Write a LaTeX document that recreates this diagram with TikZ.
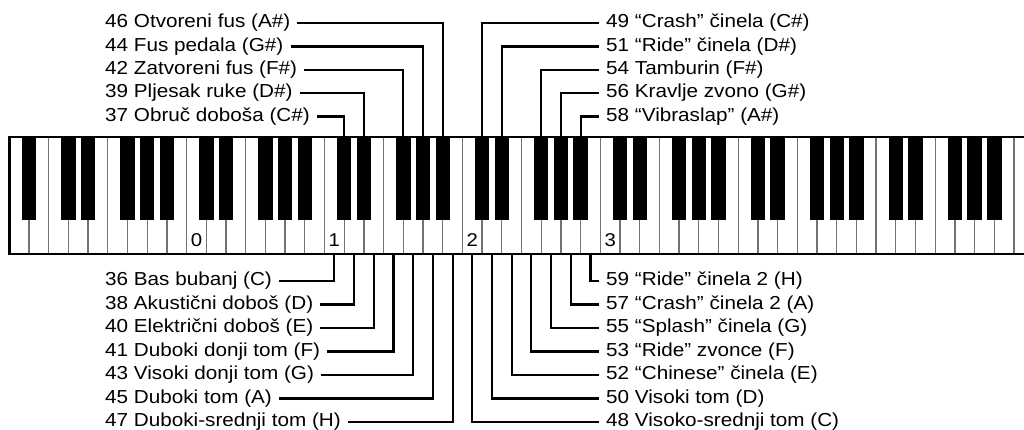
\documentclass[tikz,border=0pt]{standalone}
\usepackage{fontspec}
\setsansfont{Liberation Sans}[FakeStretch=1.1]
\def\kx{9.3}
\def\kw{19.7}

\begin{document}
\begin{tikzpicture}[
  x=1pt,y=-1pt,font=\sffamily,
  lbl/.style={font=\sffamily\fontsize{18.8}{22}\selectfont, anchor=west, inner xsep=7pt, inner ysep=1pt},
  oct/.style={font=\sffamily\fontsize{18.5}{20}\selectfont, inner sep=0pt},
  lead/.style={line width=2.1pt, color=black},
  wsep/.style={line width=1.3pt, color=black!55},
  rim/.style={line width=2.4pt, color=black},
  bkey/.style={fill=black},
]
\useasboundingbox (0,0) rectangle (1024,429);
\clip (0,0) rectangle (1024,429);

% white keys
\foreach \i in {0,...,52} {
  \draw[wsep] ({\kx+\i*\kw},137) -- ({\kx+\i*\kw},254);
  \coordinate (wk\i) at ({\kx+(\i+0.5)*\kw},254);
}
% black keys
\foreach \o in {0,...,7} \foreach \d in {1,3,4,6,7} {
  \pgfmathtruncatemacro\b{7*\o+\d}
  \fill[bkey] ({\kx+\b*\kw-7.2},137) rectangle ({\kx+\b*\kw+7.2},220);
  \coordinate (bk\b) at ({\kx+\b*\kw},137);
}
\draw[rim] (1030,137) -| (\kx,254) -- (1030,254);
\foreach \o/\i in {0/9,1/16,2/23,3/30} {\node[oct] (oct\o) at ({\kx+(\i+0.5)*\kw},240) {\o};}

% labels above
\foreach \n/\y/\t in {46/23/Otvoreni fus (A\#),44/46.5/Fus pedala (G\#),42/70/Zatvoreni fus (F\#),39/93/Pljesak ruke (D\#),37/116.5/Obruč doboša (C\#)} {\node[lbl] (l\n) at (98,\y) {\n\ \t};}
\foreach \n/\y/\t in {49/23/“Crash” činela (C\#),51/46.5/“Ride” činela (D\#),54/70/Tamburin (F\#),56/93/Kravlje zvono (G\#),58/116.5/“Vibraslap” (A\#)} {\node[lbl] (l\n) at (599,\y) {\n\ \t};}
% labels below
\foreach \n/\y/\t in {36/281/Bas bubanj (C),38/304.5/Akustični doboš (D),40/328/Električni doboš (E),41/351.5/Duboki donji tom (F),43/375/Visoki donji tom (G),45/398.5/Duboki tom (A),47/422/Duboki-srednji tom (H)} {\node[lbl] (l\n) at (98,\y) {\n\ \t};}
\foreach \n/\y/\t in {59/281/“Ride” činela 2 (H),57/304.5/“Crash” činela 2 (A),55/328/“Splash” činela (G),53/351.5/“Ride” zvonce (F),52/375/“Chinese” činela (E),50/398.5/Visoki tom (D),48/422/Visoko-srednji tom (C)} {\node[lbl] (l\n) at (599,\y) {\n\ \t};}

% leaders
\foreach \n/\k in {46/22,44/21,42/20,39/18,37/17} {\draw[lead] (l\n.east) -| (bk\k);}
\foreach \n/\k in {49/24,51/25,54/27,56/28,58/29} {\draw[lead] (bk\k) |- (l\n.west);}
\foreach \n/\k in {36/16,38/17,40/18,41/19,43/20,45/21,47/22} {\draw[lead] (l\n.east) -| (wk\k);}
\foreach \n/\k in {59/29,57/28,55/27,53/26,52/25,50/24,48/23} {\draw[lead] (wk\k) |- (l\n.west);}

\end{tikzpicture}
\end{document}
